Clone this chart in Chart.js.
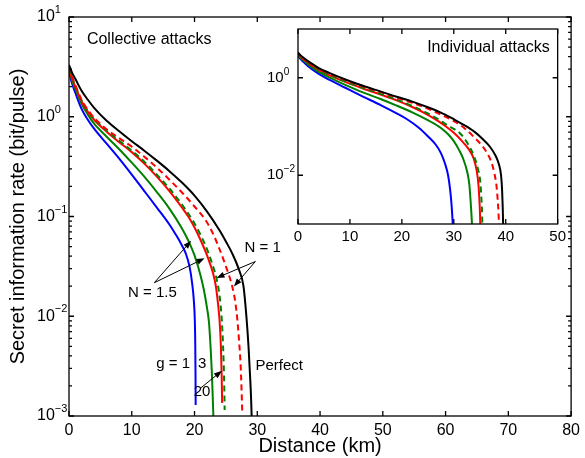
<!DOCTYPE html>
<html>
<head>
<meta charset="utf-8">
<script src="https://cdn.jsdelivr.net/npm/chart.js@4.4.1/dist/chart.umd.min.js"></script>
<style>
  html, body { margin: 0; padding: 0; background: #fff; }
  #wrap { position: relative; width: 585px; height: 458px; }
  #main { position: absolute; left: 0; top: 0; }
  #inset { position: absolute; left: 250px; top: 15px; }
</style>
</head>
<body>
<div id="wrap">
  <canvas id="main" width="585" height="458"></canvas>
  <canvas id="inset" width="320" height="240"></canvas>
</div>
<script>
// Collective attacks (main axes), distance in km, rate in bit/pulse
var colPerfectX = [0, 0.5, 1, 2, 3, 4, 6, 8, 10, 12, 14, 16, 18, 20, 22, 24, 25, 26, 27, 27.8, 28.3, 28.6, 28.85, 29.0, 29.1];
var colPerfectY = [3.31, 2.75, 2.40, 1.82, 1.48, 1.23, 0.912, 0.716, 0.569, 0.457, 0.363, 0.285, 0.219, 0.162, 0.112, 0.0724, 0.0562, 0.0427, 0.0302, 0.020, 0.00933, 0.00501, 0.00251, 0.00158, 0.001];
var colRedDashX = [0, 0.5, 1, 2, 3, 4, 6, 8, 10, 12, 14, 16, 18, 20, 22, 23, 24, 25, 26, 26.5, 26.8, 27.1, 27.35, 27.5, 27.6];
var colRedDashY = [3.20, 2.51, 2.09, 1.48, 1.17, 0.977, 0.750, 0.610, 0.501, 0.398, 0.309, 0.234, 0.174, 0.126, 0.0871, 0.0661, 0.0468, 0.0316, 0.020, 0.0138, 0.00955, 0.00562, 0.00316, 0.00178, 0.00112];
var colGreenDashX = [0, 0.5, 1, 2, 3, 4, 6, 8, 10, 12, 14, 16, 18, 19, 20, 21, 22, 23, 23.5, 24.0, 24.3, 24.55, 24.7, 24.8];
var colGreenDashY = [3.09, 2.43, 2.02, 1.45, 1.15, 0.955, 0.724, 0.575, 0.457, 0.355, 0.263, 0.191, 0.132, 0.107, 0.0851, 0.0646, 0.0468, 0.0309, 0.0240, 0.0158, 0.01, 0.00501, 0.00251, 0.00115];
var colRedX = [0, 0.5, 1, 2, 3, 4, 6, 8, 10, 12, 14, 16, 18, 19, 20, 21, 22, 23, 23.4, 23.75, 24.0, 24.2, 24.32, 24.4];
var colRedY = [3.09, 2.40, 2.0, 1.43, 1.12, 0.933, 0.708, 0.556, 0.442, 0.339, 0.251, 0.180, 0.123, 0.1, 0.0776, 0.0575, 0.0407, 0.0263, 0.020, 0.0132, 0.00891, 0.00501, 0.00263, 0.00135];
var colGreenX = [0, 0.5, 1, 2, 3, 4, 6, 8, 10, 12, 14, 16, 18, 19, 20, 21, 21.5, 22, 22.3, 22.55, 22.75, 22.9, 23.0];
var colGreenY = [3.02, 2.29, 1.91, 1.35, 1.05, 0.851, 0.631, 0.473, 0.347, 0.251, 0.176, 0.120, 0.0759, 0.0575, 0.0407, 0.0251, 0.0182, 0.0120, 0.00871, 0.00501, 0.00282, 0.00158, 0.001];
var colBlueX = [0, 0.5, 1, 2, 3, 4, 6, 8, 10, 12, 14, 16, 17, 18, 18.6, 19.2, 19.6, 19.9, 20.05, 20.12, 20.16, 20.18];
var colBlueY = [2.82, 2.14, 1.74, 1.20, 0.933, 0.759, 0.537, 0.380, 0.263, 0.180, 0.123, 0.0832, 0.0661, 0.0513, 0.0427, 0.0316, 0.0219, 0.0141, 0.00891, 0.00501, 0.00251, 0.00129];

// Individual attacks (inset)
var indPerfectX = [0, 0.5, 1, 2, 4, 6, 9, 12.5, 16, 19, 22, 25, 28, 30, 32, 34, 35.5, 37, 38.1, 38.7, 39.1, 39.3, 39.42, 39.5];
var indPerfectY = [3.31, 2.88, 2.60, 2.16, 1.58, 1.26, 0.933, 0.684, 0.519, 0.407, 0.324, 0.248, 0.182, 0.141, 0.107, 0.0776, 0.0562, 0.0380, 0.0245, 0.0166, 0.01, 0.00501, 0.00224, 0.001];
var indRedDashX = [0, 0.5, 1, 2, 4, 6, 9, 12.5, 16, 19, 22, 25, 28, 30, 32, 34, 35.5, 36.5, 37.2, 37.8, 38.2, 38.45, 38.6, 38.7];
var indRedDashY = [3.20, 2.79, 2.51, 2.09, 1.53, 1.22, 0.902, 0.661, 0.501, 0.389, 0.305, 0.232, 0.166, 0.129, 0.0933, 0.0589, 0.0398, 0.0275, 0.0191, 0.0112, 0.00631, 0.00316, 0.00178, 0.001];
var indGreenDashX = [0, 0.5, 1, 2, 4, 6, 9, 12.5, 16, 19, 22, 25, 27, 28.5, 30, 31, 32.5, 33.9, 34.6, 35.1, 35.3, 35.42, 35.5];
var indGreenDashY = [3.09, 2.69, 2.43, 2.0, 1.46, 1.15, 0.841, 0.617, 0.462, 0.355, 0.263, 0.186, 0.141, 0.111, 0.0891, 0.0759, 0.0479, 0.0245, 0.0141, 0.00724, 0.00355, 0.002, 0.001];
var indRedX = [0, 0.5, 1, 2, 4, 6, 9, 12.5, 16, 19, 22, 25, 27, 28.5, 30, 31.5, 32.9, 33.8, 34.4, 34.75, 34.95, 35.05, 35.1];
var indRedY = [3.09, 2.69, 2.43, 2.0, 1.45, 1.135, 0.832, 0.603, 0.447, 0.343, 0.251, 0.174, 0.129, 0.1, 0.0741, 0.0513, 0.0339, 0.0224, 0.0126, 0.00631, 0.00282, 0.00158, 0.001];
var indGreenX = [0, 0.5, 1, 2, 4, 6, 9, 12.5, 16, 19, 22, 25, 27, 28, 29, 30, 31, 31.8, 32.6, 33.0, 33.25, 33.4, 33.5];
var indGreenY = [3.02, 2.57, 2.29, 1.86, 1.32, 1.02, 0.724, 0.501, 0.363, 0.269, 0.195, 0.135, 0.102, 0.0851, 0.0676, 0.0501, 0.0331, 0.0219, 0.0115, 0.00631, 0.00282, 0.00158, 0.001];
var indBlueX = [0, 0.5, 1, 2, 4, 6, 9, 12.5, 16, 19, 21, 23.2, 25, 26.5, 27.5, 28.3, 28.9, 29.3, 29.6, 29.8];
var indBlueY = [2.88, 2.40, 2.14, 1.70, 1.20, 0.912, 0.631, 0.412, 0.272, 0.186, 0.141, 0.0955, 0.0631, 0.0427, 0.0288, 0.0174, 0.01, 0.00501, 0.00224, 0.001];

// tick labels
var mainXTicks = [0, 10, 20, 30, 40, 50, 60, 70, 80];
var mainYExponents = [-3, -2, -1, 0, 1];
var insetXTicks = [0, 10, 20, 30, 40, 50];
var insetYExponents = [-2, 0];

var FONT = "'Liberation Sans', Arial, Helvetica, sans-serif";
Chart.defaults.font.family = FONT;
Chart.defaults.color = '#000';

function pts(xs, ys) {
  return xs.map(function (x, i) { return { x: x, y: ys[i] }; });
}

function line(xs, ys, color, dash) {
  return {
    data: pts(xs, ys),
    borderColor: color,
    borderWidth: 2,
    borderDash: dash,
    pointRadius: 0,
    fill: false,
    cubicInterpolationMode: 'monotone'
  };
}

function drawArrow(c, x0, y0, x1, y1) {
  var ang = Math.atan2(y1 - y0, x1 - x0), L = 8, W = 3;
  c.beginPath();
  c.moveTo(x0, y0);
  c.lineTo(x1 - Math.cos(ang) * L * 0.8, y1 - Math.sin(ang) * L * 0.8);
  c.stroke();
  c.beginPath();
  c.moveTo(x1, y1);
  c.lineTo(x1 - Math.cos(ang) * L - Math.sin(ang) * W, y1 - Math.sin(ang) * L + Math.cos(ang) * W);
  c.lineTo(x1 - Math.cos(ang) * L + Math.sin(ang) * W, y1 - Math.sin(ang) * L - Math.cos(ang) * W);
  c.closePath();
  c.fill();
}

// box, inward ticks, y labels as 10^n, text notes and arrows
function framePlugin(cfg) {
  return {
    id: 'frame',
    beforeDatasetsDraw: function (chart) {
      if (!cfg.whiteBg) return;
      var a = chart.chartArea, c = chart.ctx;
      c.save();
      c.fillStyle = '#fff';
      c.fillRect(a.left, a.top, a.right - a.left, a.bottom - a.top);
      c.restore();
    },
    afterDraw: function (chart) {
      var a = chart.chartArea, c = chart.ctx, xs = chart.scales.x, ys = chart.scales.y;
      c.save();
      c.strokeStyle = '#000';
      c.fillStyle = '#000';
      c.lineWidth = 1.3;
      c.strokeRect(a.left, a.top, a.right - a.left, a.bottom - a.top);
      c.beginPath();
      xs.ticks.forEach(function (t) {
        var px = xs.getPixelForValue(t.value);
        c.moveTo(px, a.bottom); c.lineTo(px, a.bottom - cfg.major);
        c.moveTo(px, a.top); c.lineTo(px, a.top + cfg.major);
      });
      ys.ticks.forEach(function (t) {
        var py = ys.getPixelForValue(t.value);
        c.moveTo(a.left, py); c.lineTo(a.left + cfg.major, py);
        c.moveTo(a.right, py); c.lineTo(a.right - cfg.major, py);
      });
      if (cfg.minor) {
        for (var e = -3; e < 1; e++) {
          for (var k = 2; k < 10; k++) {
            var py = ys.getPixelForValue(k * Math.pow(10, e));
            c.moveTo(a.left, py); c.lineTo(a.left + cfg.minor, py);
            c.moveTo(a.right, py); c.lineTo(a.right - cfg.minor, py);
          }
        }
      }
      c.stroke();

      c.textBaseline = 'middle';
      c.textAlign = 'left';
      cfg.yExps.forEach(function (e) {
        var py = ys.getPixelForValue(Math.pow(10, e));
        var bx = a.left - cfg.labelOffset;
        c.font = cfg.baseSize + 'px ' + FONT;
        c.fillText('10', bx, py);
        var w = c.measureText('10').width;
        c.font = cfg.expSize + 'px ' + FONT;
        c.fillText(e < 0 ? '\u2212' + (-e) : String(e), bx + w, py - cfg.expRise);
      });

      (cfg.notes || []).forEach(function (n) {
        c.font = n.size + 'px ' + FONT;
        c.textAlign = n.align;
        c.fillText(n.text, xs.getPixelForValue(n.x), ys.getPixelForValue(n.y));
      });
      c.lineWidth = 1;
      (cfg.arrows || []).forEach(function (r) {
        drawArrow(c, xs.getPixelForValue(r[0]), ys.getPixelForValue(r[1]),
          xs.getPixelForValue(r[2]), ys.getPixelForValue(r[3]));
      });
      c.restore();
    }
  };
}

var mainNotes = [
  { text: 'Collective attacks', x: 2.85, y: 5.9, size: 16, align: 'left' },
  { text: 'N = 1.5', x: 13.3, y: 0.017, size: 15, align: 'center' },
  { text: 'N = 1', x: 30.85, y: 0.049, size: 15, align: 'center' },
  { text: 'g = 1', x: 19.3, y: 0.0033, size: 15, align: 'right' },
  { text: '3', x: 21.2, y: 0.0033, size: 15, align: 'center' },
  { text: '20', x: 21.2, y: 0.00174, size: 15, align: 'center' },
  { text: 'Perfect', x: 29.7, y: 0.0032, size: 15, align: 'left' }
];
var mainArrows = [
  [13.6, 0.0217, 19.46, 0.0571],
  [13.6, 0.0217, 21.6, 0.0381],
  [29.7, 0.0354, 23.5, 0.0242],
  [29.7, 0.0354, 26.27, 0.0199],
  [21.04, 0.00192, 24.37, 0.00284]
];

function datasets(set) {
  // drawn last-to-first, so black ends up on top
  return [
    line(set[0], set[1], '#000000', []),
    line(set[2], set[3], '#ff0000', [6, 4]),
    line(set[4], set[5], '#008000', [6, 4]),
    line(set[6], set[7], '#ff0000', []),
    line(set[8], set[9], '#008000', []),
    line(set[10], set[11], '#0000ff', [])
  ];
}

new Chart(document.getElementById('main'), {
  type: 'line',
  data: {
    datasets: datasets([colPerfectX, colPerfectY, colRedDashX, colRedDashY, colGreenDashX, colGreenDashY,
      colRedX, colRedY, colGreenX, colGreenY, colBlueX, colBlueY])
  },
  options: {
    responsive: false,
    animation: false,
    layout: { padding: { left: 0, right: 10, top: 17, bottom: 0 } },
    plugins: { legend: { display: false }, tooltip: { enabled: false } },
    scales: {
      x: {
        type: 'linear', min: 0, max: 80,
        afterBuildTicks: function (s) { s.ticks = mainXTicks.map(function (v) { return { value: v }; }); },
        afterFit: function (s) { s.height = 42; },
        grid: { display: false, drawTicks: false },
        border: { display: false },
        ticks: { font: { size: 16 }, padding: 5, maxRotation: 0 },
        title: { display: true, text: 'Distance (km)', font: { size: 20 }, padding: { top: 0, bottom: 0 } }
      },
      y: {
        type: 'logarithmic', min: 0.001, max: 10,
        afterBuildTicks: function (s) { s.ticks = mainYExponents.map(function (e) { return { value: Math.pow(10, e) }; }); },
        afterFit: function (s) { s.width = 69; },
        grid: { display: false, drawTicks: false },
        border: { display: false },
        ticks: { display: false },
        title: { display: true, text: 'Secret information rate (bit/pulse)', font: { size: 20 }, padding: { top: 6, bottom: 0 } }
      }
    }
  },
  plugins: [framePlugin({ major: 5, minor: 3, yExps: mainYExponents, labelOffset: 32, baseSize: 16, expSize: 11, expRise: 7,
    notes: mainNotes, arrows: mainArrows })]
});

new Chart(document.getElementById('inset'), {
  type: 'line',
  data: {
    datasets: datasets([indPerfectX, indPerfectY, indRedDashX, indRedDashY, indGreenDashX, indGreenDashY,
      indRedX, indRedY, indGreenX, indGreenY, indBlueX, indBlueY])
  },
  options: {
    responsive: false,
    animation: false,
    layout: { padding: { left: 0, right: 11, top: 14, bottom: 0 } },
    plugins: { legend: { display: false }, tooltip: { enabled: false } },
    scales: {
      x: {
        type: 'linear', min: 0, max: 50,
        afterBuildTicks: function (s) { s.ticks = insetXTicks.map(function (v) { return { value: v }; }); },
        afterFit: function (s) { s.height = 31; },
        grid: { display: false, drawTicks: false },
        border: { display: false },
        ticks: { font: { size: 15 }, padding: 4, maxRotation: 0 }
      },
      y: {
        type: 'logarithmic', min: 0.001, max: 10,
        afterBuildTicks: function (s) { s.ticks = insetYExponents.map(function (e) { return { value: Math.pow(10, e) }; }); },
        afterFit: function (s) { s.width = 48; },
        grid: { display: false, drawTicks: false },
        border: { display: false },
        ticks: { display: false }
      }
    }
  },
  plugins: [framePlugin({ whiteBg: true, major: 5, minor: 0, yExps: insetYExponents, labelOffset: 31, baseSize: 15, expSize: 10, expRise: 6,
    notes: [{ text: 'Individual attacks', x: 48.5, y: 4.1, size: 16, align: 'right' }] })]
});
</script>
</body>
</html>
